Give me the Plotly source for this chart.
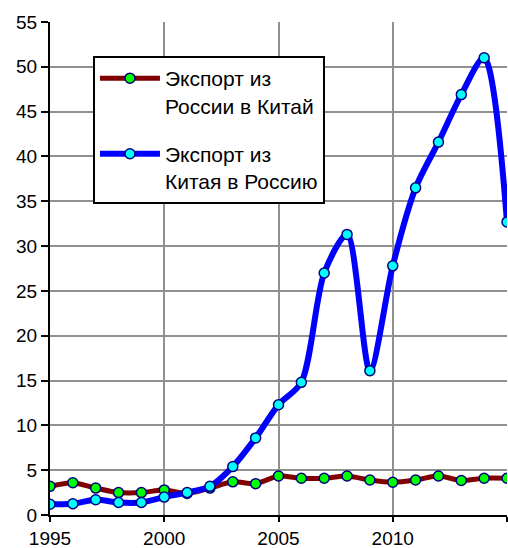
import plotly.graph_objects as go

years = list(range(1995, 2016))
russia_to_china = [3.2, 3.6, 3.0, 2.5, 2.5, 2.8, 2.4, 3.0, 3.7, 3.5, 4.35, 4.1, 4.1, 4.35, 3.9, 3.65, 3.9, 4.35, 3.85, 4.1, 4.1]
china_to_russia = [1.2, 1.25, 1.7, 1.4, 1.4, 2.0, 2.5, 3.2, 5.4, 8.6, 12.3, 14.8, 27.0, 31.3, 16.1, 27.8, 36.5, 41.6, 46.9, 51.0, 32.7]
name_ru = "Экспорт из<br>России в Китай"
name_cn = "Экспорт из<br>Китая в Россию"
x_tickvals = [1995, 2000, 2005, 2010, 2015]
x_ticktext = ["1995", "2000", "2005", "2010", ""]
y_tickvals = list(range(0, 56, 5))

FONT = "Liberation Sans, Arial, sans-serif"

fig = go.Figure()
fig.add_trace(go.Scatter(
    x=years, y=russia_to_china, name=name_ru, mode="lines+markers", legendgroup="ru",
    line=dict(color="#800000", width=5, shape="spline", smoothing=0.8),
    marker=dict(size=10, color="#00ff00", line=dict(color="#000080", width=1.5)),
))
fig.add_trace(go.Scatter(
    x=years, y=china_to_russia, name=name_cn, mode="lines+markers", legendgroup="cn",
    line=dict(color="#0000ff", width=6, shape="spline", smoothing=0.8),
    marker=dict(size=10, color="#00ffff", line=dict(color="#000080", width=1.5)),
))

fig.update_layout(
    width=508, height=548,
    margin=dict(l=50, r=1, t=22, b=33),
    paper_bgcolor="white", plot_bgcolor="white",
    font=dict(family=FONT, size=19, color="black"),
    showlegend=True,
    legend=dict(
        x=0.094, y=0.931, xanchor="left", yanchor="top",
        bgcolor="white", bordercolor="black", borderwidth=2,
        font=dict(family=FONT, size=21, color="black"),
        itemwidth=60, valign="top", tracegroupgap=18,
    ),
    xaxis=dict(
        range=[1995, 2015], tickmode="array", tickvals=x_tickvals, ticktext=x_ticktext,
        showgrid=True, gridcolor="#909090", gridwidth=1.5,
        showline=True, linecolor="black", linewidth=2,
        ticks="outside", ticklen=5, tickwidth=2, tickcolor="black",
        zeroline=False, automargin=False, fixedrange=True,
    ),
    yaxis=dict(
        range=[0, 55], tickmode="array", tickvals=y_tickvals,
        showgrid=True, gridcolor="#909090", gridwidth=1.5,
        showline=True, linecolor="black", linewidth=2,
        ticks="outside", ticklen=7, tickwidth=2, tickcolor="black",
        zeroline=False, automargin=False, fixedrange=True,
    ),
)

fig.write_html("out.html", config={"displayModeBar": False},
               post_script="document.body.style.margin='0';")
